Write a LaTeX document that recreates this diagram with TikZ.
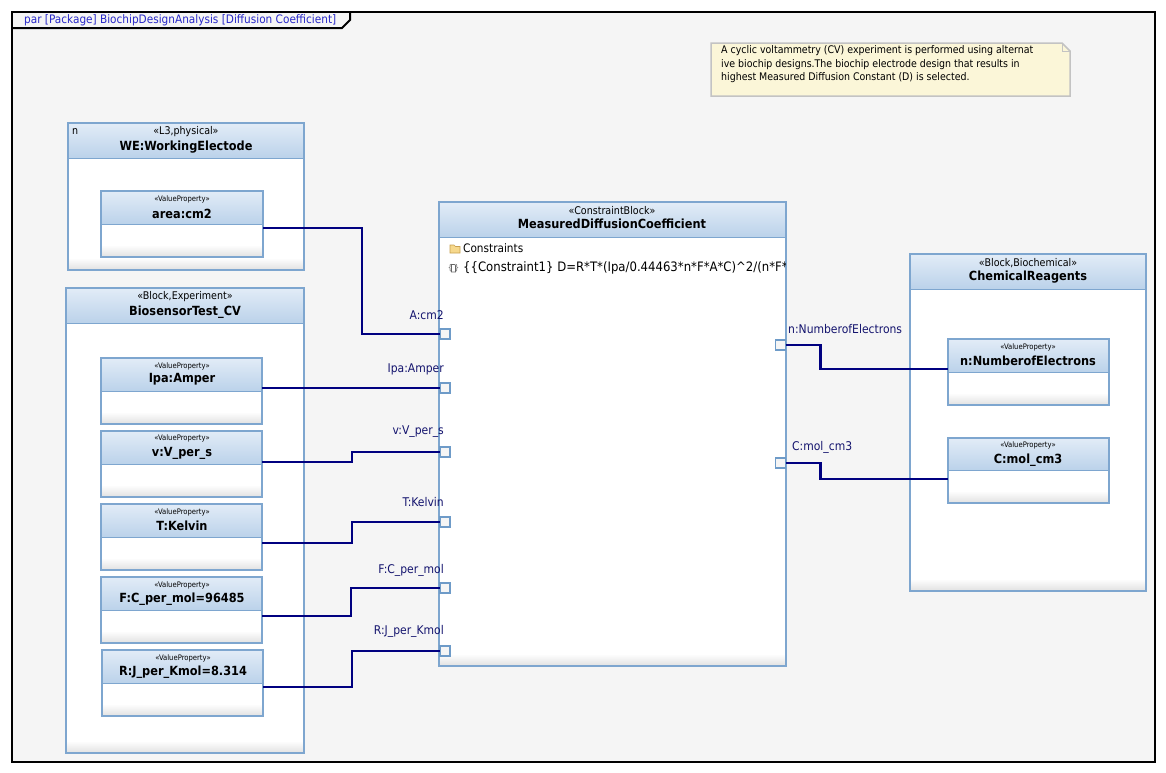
\documentclass[tikz,border=0pt]{standalone}
\usepackage{fontspec}
\setmainfont{DejaVu Sans Condensed}
\usetikzlibrary{calc}
\definecolor{bcol}{RGB}{126,166,207}
\definecolor{hdtop}{RGB}{226,236,247}
\definecolor{hdbot}{RGB}{187,210,234}
\definecolor{navy}{RGB}{0,0,128}
\definecolor{lblcol}{RGB}{20,20,110}
\definecolor{bgcol}{RGB}{245,245,245}
\definecolor{notefill}{RGB}{251,246,216}
\definecolor{notedraw}{RGB}{195,195,195}
\definecolor{titleblue}{RGB}{40,40,200}
\definecolor{portdraw}{RGB}{110,155,200}
\definecolor{folderfill}{RGB}{246,216,140}
\definecolor{folderdraw}{RGB}{200,160,80}
\tikzset{
  blk/.style={draw=bcol, line width=1.3pt, inner sep=0pt, outer sep=0pt, anchor=north west, rectangle},
  conn/.style={draw=navy, line width=2.8pt},
  port/.style={draw=portdraw, fill=bgcol, line width=1.2pt, minimum size=10pt, inner sep=0pt, outer sep=0pt, rectangle},
  plbl/.style={text=lblcol, font=\fontsize{12}{14}\selectfont, inner sep=0pt},
  stereo/.style={font=\fontsize{10.6}{12}\selectfont, inner sep=0pt},
  vstereo/.style={font=\fontsize{7.6}{9}\selectfont, inner sep=0pt},
  ttl/.style={font=\bfseries\fontsize{12.6}{14}\selectfont, inner sep=0pt},
  body/.style={font=\fontsize{11.7}{13}\selectfont, inner sep=0pt},
  notetext/.style={font=\fontsize{10.5}{12}\selectfont, inner sep=0pt, anchor=base west},
}
\newcommand\umlbox[6]{%
  \fill[white] (#2,#3) rectangle (#4,#5);
  \shade[top color=white, bottom color=black!12] (#2,{#5-12}) rectangle (#4,#5);
  \shade[top color=hdtop, bottom color=hdbot] (#2,#3) rectangle (#4,#6);
  \draw[bcol, line width=1pt] (#2,#6) -- (#4,#6);
  \node[blk, minimum width={#4-#2}, minimum height={#5-#3}] (#1) at (#2,#3) {};
}
\begin{document}
\begin{tikzpicture}[x=1pt, y=-1pt]
\useasboundingbox (0,0) rectangle (1166,772);
\fill[white] (0,0) rectangle (1166,772);
\fill[bgcol] (12,12) rectangle (1155,762);
\draw[black, line width=2pt] (12,12) rectangle (1155,762);
\draw[black, line width=2pt] (12,28) -- (342,28) -- (350,20) -- (350,12);
\node[inner sep=0pt, anchor=west, text=titleblue, font=\fontsize{11.7}{13}\selectfont] (frametitle) at (24,20.5) {par [Package] BiochipDesignAnalysis [Diffusion Coefficient]};

% note
\draw[fill=notefill, draw=notedraw, line width=1.5pt] (711,43) -- (1062,43) -- (1070,51) -- (1070,96) -- (711,96) -- cycle;
\draw[draw=notedraw, line width=1pt] (1062,43) -- (1062,51) -- (1070,51);
\node[notetext] (note1) at (721,53) {A cyclic voltammetry (CV) experiment is performed using alternat};
\node[notetext] (note2) at (721,67) {ive biochip designs.The biochip electrode design that results in};
\node[notetext] (note3) at (721,80) {highest Measured Diffusion Constant (D) is selected.};

% WE block
\umlbox{we}{68}{123}{304}{270}{158}
\node[stereo] (weS) at (186,132) {«L3,physical»};
\node[ttl] (weT) at (186,147) {WE:WorkingElectode};
\node[stereo, anchor=west] (weN) at (72,132) {n};
\umlbox{area}{101}{191}{263}{257}{224}
\node[vstereo] (areaS) at (182,199) {«ValueProperty»};
\node[ttl] (areaT) at (182,214) {area:cm2};

% Biosensor block
\umlbox{bio}{66}{288}{304}{753}{323}
\node[stereo] (bioS) at (185,297) {«Block,Experiment»};
\node[ttl] (bioT) at (185,312) {BiosensorTest\_CV};
\umlbox{ipa}{101}{358}{262}{424}{391}
\node[vstereo] (ipaS) at (182,366) {«ValueProperty»};
\node[ttl] (ipaT) at (182,379) {Ipa:Amper};
\umlbox{vv}{101}{431}{262}{497}{464}
\node[vstereo] (vvS) at (182,438) {«ValueProperty»};
\node[ttl] (vvT) at (182,453) {v:V\_per\_s};
\umlbox{tk}{101}{504}{262}{570}{537}
\node[vstereo] (tkS) at (182,512) {«ValueProperty»};
\node[ttl] (tkT) at (182,526) {T:Kelvin};
\umlbox{fc}{101}{577}{262}{643}{610}
\node[vstereo] (fcS) at (182,585) {«ValueProperty»};
\node[ttl] (fcT) at (182,599) {F:C\_per\_mol=96485};
\umlbox{rj}{102}{650}{263}{716}{683}
\node[vstereo] (rjS) at (183,658) {«ValueProperty»};
\node[ttl] (rjT) at (183,672) {R:J\_per\_Kmol=8.314};

% Constraint block
\umlbox{mdc}{439}{202}{786}{666}{237}
\node[stereo] (mdcS) at (612,211) {«ConstraintBlock»};
\node[ttl] (mdcT) at (612,224) {MeasuredDiffusionCoefficient};
\draw[fill=folderfill, draw=folderdraw, line width=0.6pt] (450,245) -- (454,245) -- (455.5,246.5) -- (460,246.5) -- (460,253) -- (450,253) -- cycle;
\node[body, anchor=west] (cons) at (463,248) {Constraints};
\node[inner sep=0pt, font=\fontsize{8}{9}\selectfont, text=black!60] (consicon) at (453.5,268.5) {\{\kern2.2pt\}};
\draw[draw=black!60, line width=0.6pt] (451.5,264.5) -- (454.5,264.5) -- (455.5,265.5) -- (455.5,272) -- (451.5,272) -- cycle;
\begin{scope}
\clip (440,238) rectangle (785,665);
\node[inner sep=0pt, font=\fontsize{13}{15}\selectfont, anchor=west] (constr1) at (463,268) {\{\{Constraint1\} D=R*T*(Ipa/0.44463*n*F*A*C)\textasciicircum2/(n*F*};
\end{scope}

% Chemical reagents block
\umlbox{chem}{910}{254}{1146}{591}{289}
\node[stereo] (chemS) at (1028,263) {«Block,Biochemical»};
\node[ttl] (chemT) at (1028,277) {ChemicalReagents};
\umlbox{ne}{948}{339}{1109}{405}{372}
\node[vstereo] (neS) at (1028,347) {«ValueProperty»};
\node[ttl] (neT) at (1028,361) {n:NumberofElectrons};
\umlbox{cm}{948}{438}{1109}{503}{470}
\node[vstereo] (cmS) at (1028,445) {«ValueProperty»};
\node[ttl] (cmT) at (1028,460) {C:mol\_cm3};

% ports
\node[port] (pA) at (445,334) {};
\node[port] (pIpa) at (445,388) {};
\node[port] (pv) at (445,452) {};
\node[port] (pT) at (445,522) {};
\node[port] (pF) at (445,588) {};
\node[port] (pR) at (445,651) {};
\node[port] (pn) at (780.5,345) {};
\node[port] (pC) at (780.5,463) {};

% connectors
\draw[conn] ([yshift=-4pt]area.east) -- ++(99,0) |- (pA.west);
\draw[conn] ([yshift=3pt]ipa.east) -- (pIpa.west);
\draw[conn] ([yshift=2pt]vv.east) -- ++(90,0) |- (pv.west);
\draw[conn] ([yshift=-6pt]tk.east) -- ++(90,0) |- (pT.west);
\draw[conn] ([yshift=-6pt]fc.east) -- ++(89,0) |- (pF.west);
\draw[conn] ([yshift=-4pt]rj.east) -- ++(89,0) |- (pR.west);
\draw[conn] (pn.east) -- ++(35,0) |- ([yshift=3pt]ne.west);
\draw[conn] (pC.east) -- ++(35,0) |- ([yshift=-8.5pt]cm.west);

% port labels
\node[plbl, anchor=east] (lA) at (444,315) {A:cm2};
\node[plbl, anchor=east] (lIpa) at (444,369) {Ipa:Amper};
\node[plbl, anchor=east] (lv) at (444,432) {v:V\_per\_s};
\node[plbl, anchor=east] (lT) at (444,502) {T:Kelvin};
\node[plbl, anchor=east] (lF) at (444,570) {F:C\_per\_mol};
\node[plbl, anchor=east] (lR) at (444,631) {R:J\_per\_Kmol};
\node[plbl, anchor=west] (ln) at (788,329) {n:NumberofElectrons};
\node[plbl, anchor=west] (lC) at (792,447) {C:mol\_cm3};
\end{tikzpicture}
\end{document}
